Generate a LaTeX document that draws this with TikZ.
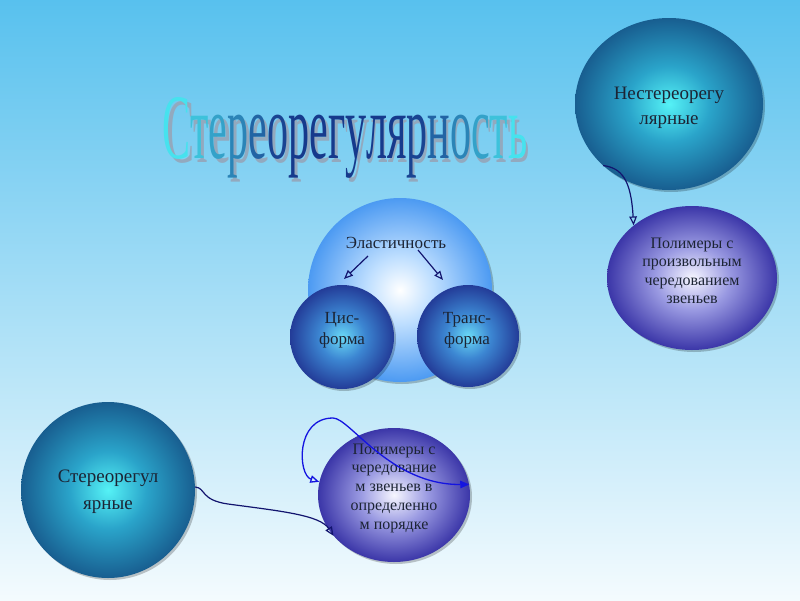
\documentclass[tikz,border=0pt]{standalone}
\usepackage{fontspec}
\setmainfont{Liberation Serif}
\usetikzlibrary{arrows.meta,shapes.geometric,shadows}
\definecolor{bgtop}{HTML}{58C1EE}
\definecolor{bgbot}{HTML}{F4FBFE}
\definecolor{tc1}{HTML}{55F2F6}
\definecolor{tc2}{HTML}{2AA4CA}
\definecolor{tc3}{HTML}{185E90}
\definecolor{pc1}{HTML}{F6F6FF}
\definecolor{pc2}{HTML}{9A9AE2}
\definecolor{pc3}{HTML}{3B36A8}
\definecolor{bc1}{HTML}{FFFFFF}
\definecolor{bc2}{HTML}{BFDFFF}
\definecolor{bc3}{HTML}{4C9AF2}
\definecolor{sc1}{HTML}{6ADAF6}
\definecolor{sc2}{HTML}{3C86D2}
\definecolor{sc3}{HTML}{233C98}
\definecolor{tcyan}{HTML}{46E2EE}
\definecolor{tnavy}{HTML}{163A8C}
\definecolor{tshadow}{HTML}{93A9BE}
\definecolor{txt}{HTML}{1C2434}
\definecolor{navyline}{HTML}{12146E}
\definecolor{blueline}{HTML}{1414E0}
\pgfdeclareradialshading{tealshade}{\pgfpoint{0bp}{0bp}}{color(0bp)=(tc1); color(11bp)=(tc2); color(25bp)=(tc3); color(50bp)=(tc3)}
\pgfdeclareradialshading{purpshade}{\pgfpoint{0bp}{0bp}}{color(0bp)=(pc1); color(11bp)=(pc2); color(25bp)=(pc3); color(50bp)=(pc3)}
\pgfdeclareradialshading{bigshade}{\pgfpoint{0bp}{0bp}}{color(0bp)=(bc1); color(9bp)=(bc2); color(25bp)=(bc3); color(50bp)=(bc3)}
\pgfdeclareradialshading{smallshade}{\pgfpoint{0bp}{0bp}}{color(0bp)=(sc1); color(11bp)=(sc2); color(25bp)=(sc3); color(50bp)=(sc3)}
\newcommand{\tl}[2]{{\color{tnavy!#1!tcyan}#2}}
\begin{document}
\begin{tikzpicture}[x=1pt,y=-1pt,
  shapebase/.style={ellipse, draw=none, inner sep=0pt,
    drop shadow={opacity=0.22, shadow xshift=2pt, shadow yshift=-2pt, fill=black}},
  tealball/.style={shapebase, shading=tealshade},
  purpball/.style={shapebase, shading=purpshade},
  bigball/.style={shapebase, shading=bigshade},
  smallball/.style={shapebase, shading=smallshade},
  lbl/.style={text=txt, align=center, inner sep=0pt},
  conn/.style={draw=navyline, line width=1.2pt, -{Triangle[open, length=9pt, width=7.5pt]}},
  loopconn/.style={draw=blueline, line width=1.3pt,
    {Triangle[open, length=9pt, width=7.5pt]}-{Triangle[length=9pt, width=7.5pt]}}]
\useasboundingbox (0,0) rectangle (800,600);
\shade[top color=bgtop, bottom color=bgbot] (0,0) rectangle (800,600);

% title (with its shadow inside the same box)
\node[anchor=base, inner sep=0pt] (title) at (345,158)
  {\resizebox{365pt}{61pt}{\fontsize{40}{40}\selectfont
  \makebox[0pt][l]{\hspace{3.6pt}\raisebox{-1.8pt}{\color{tshadow}Стереорегулярность}}%
  \tl{0}{С}\tl{19}{т}\tl{38}{е}\tl{56}{р}\tl{75}{е}\tl{94}{о}\tl{100}{р}\tl{100}{е}\tl{100}{г}\tl{100}{у}\tl{100}{л}\tl{100}{я}\tl{94}{р}\tl{75}{н}\tl{56}{о}\tl{38}{с}\tl{19}{т}\tl{0}{ь}}};

% shapes
\node[tealball, minimum width=188pt, minimum height=172pt] (nest) at (669,104) {};
\node[purpball, minimum width=170pt, minimum height=144pt] (pol1) at (692,278) {};
\node[bigball, minimum width=184pt, minimum height=184pt] (big) at (400,290) {};
\node[smallball, minimum width=104pt, minimum height=104pt] (cis) at (342,337) {};
\node[smallball, minimum width=102pt, minimum height=102pt] (trans) at (468,336) {};
\node[tealball, minimum width=174pt, minimum height=176pt] (stereo) at (108,490) {};
\node[purpball, minimum width=152pt, minimum height=134pt] (pol2) at (394,495) {};

% texts
\node[lbl, font=\fontsize{19}{25}\selectfont] (nestt) at (669,108) {Нестереорегу\\лярные};
\node[lbl, font=\fontsize{16}{18.5}\selectfont] (pol1t) at (692,271) {Полимеры с\\произвольным\\чередованием\\звеньев};
\node[lbl, font=\fontsize{17}{20}\selectfont] (elast) at (396,243) {Эластичность};
\node[lbl, font=\fontsize{17}{21}\selectfont] (cist) at (342,330) {Цис-\\форма};
\node[lbl, font=\fontsize{17}{21}\selectfont] (transt) at (467,330) {Транс-\\форма};
\node[lbl, font=\fontsize{19}{27}\selectfont] (stereot) at (108,492) {Стереорегул\\ярные};
\node[lbl, font=\fontsize{16}{18.75}\selectfont] (pol2t) at (394,488) {Полимеры с\\чередование\\м звеньев в\\определенно\\м порядке};

% connectors
\coordinate (a1s) at (368,256);
\coordinate (a1e) at (344,279);
\coordinate (a2s) at (418,250);
\coordinate (a2e) at (443,280);
\draw[conn] (a1s) -- (a1e);
\draw[conn] (a2s) -- (a2e);
\draw[conn] (nest.223) .. controls (622,168) and (631,180) .. (pol1.138);
\draw[conn] (stereo.2) .. controls (206,488) and (200,500) .. (228,504) .. controls (280,511) and (320,515) .. (pol2.214);
\draw[loopconn] (pol2.170) .. controls (298,475) and (295,418) .. (333,418) .. controls (350,418) and (390,485) .. (pol2.8);
\end{tikzpicture}
\end{document}
